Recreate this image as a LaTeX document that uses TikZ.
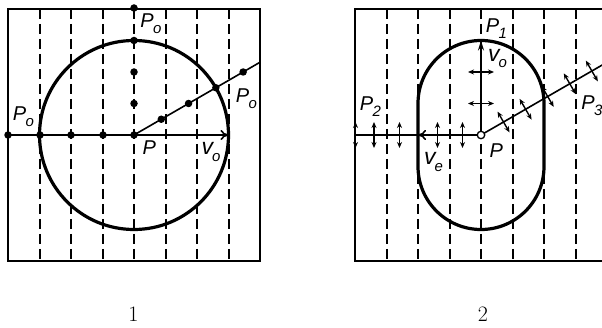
\documentclass[tikz,border=0pt]{standalone}
\usepackage{fontspec}
\setsansfont{Liberation Sans}
\usetikzlibrary{arrows.meta,calc}
\newcommand{\Lb}[2]{{\sffamily\itshape\fontsize{20}{20}\selectfont #1\kern-0.03em\raisebox{-0.3em}{\fontsize{15}{15}\selectfont #2}}}
\newcommand{\Vl}[1]{{\sffamily\itshape\fontsize{23}{23}\selectfont v\kern-0.05em\raisebox{-0.28em}{\fontsize{15}{15}\selectfont #1}}}
\begin{document}
\begin{tikzpicture}[x=1pt,y=-1pt,
  boxline/.style={line width=1.7pt},
  gridline/.style={line width=1.7pt,dash pattern=on 10pt off 5pt},
  curveline/.style={line width=3.2pt},
  axisline/.style={line width=1.6pt},
  dotmark/.style={circle,fill=black,inner sep=0pt,minimum size=7.5pt},
  dblarrow/.style={line width=1.4pt,{Stealth[length=6pt,width=5pt]}-{Stealth[length=6pt,width=5pt]}},
  lbl/.style={inner sep=0pt,anchor=center},
  captext/.style={inner sep=0pt,font=\fontsize{22}{22}\selectfont}]
\useasboundingbox (0,0) rectangle (602,328);
\clip (0,0) rectangle (602,328);
% ---------- figure 1 ----------
\coordinate (Pa) at (134,135);
\draw[boxline] (8,9) rectangle (260,261);
\foreach \x in {40,71,103,134,166,197,229} \draw[gridline] (\x,9) -- (\x,261);
\draw[curveline] (Pa) circle[radius=94.5];
\coordinate (La) at (8,135);
\coordinate (Ra) at (228.5,135);
\draw[axisline,-{To[length=8pt,width=10pt]}] (La) -- (Ra);
\coordinate (Da) at ($(Pa)+(-30:145.5)$);
\draw[axisline] (Pa) -- (Da);
\foreach \y in {8,40.5,72,103.5,135} \node[dotmark] at (134,\y) {};
\foreach \x in {8,40,71,103} \node[dotmark] at (\x,135) {};
\foreach \d in {31.5,63,94.5,126} \node[dotmark] at ($(Pa)+(-30:\d)$) {};
\node[lbl] (pot) at (151,24) {\Lb{P}{o}};
\node[lbl] (pol) at (23.5,117) {\Lb{P}{o}};
\node[lbl] (por) at (246.5,99) {\Lb{P}{o}};
\node[lbl] (pa) at (149,151) {\Lb{P}{}};
\node[lbl] (va) at (211,152) {\Vl{o}};
\node[captext] (c1) at (133.5,314) {1};
% ---------- figure 2 ----------
\coordinate (Pb) at (481,135);
\draw[boxline] (355,9) rectangle (607,261);
\foreach \x in {387,418,450,481,513,544,576} \draw[gridline] (\x,9) -- (\x,261);
\draw[curveline] (418,103.5) -- (418,166.5) arc[start angle=180,end angle=0,radius=63]
  -- (544,103.5) arc[start angle=0,end angle=-180,radius=63] -- cycle;
\coordinate (Tb) at (481,40.5);
\draw[axisline,-{Stealth[length=10pt,width=6pt]}] (Pb) -- (Tb);
\coordinate (Lb) at (355,135);
\coordinate (Sb) at (418,135);
\draw[axisline] (Pb) -- (Lb);
\draw[axisline,-{To[length=8pt,width=10pt]}] (Pb) -- (Sb);
\coordinate (Db) at ($(Pb)+(-30:150)$);
\draw[axisline] (Pb) -- (Db);
\foreach \y in {72,103.5} \draw[dblarrow] (468,\y) -- (494,\y);
\foreach \x in {462.5,437.5,399.5,374,355.5} \draw[dblarrow] (\x,122) -- (\x,148);
\foreach \d in {26,51.5,77,102.5,128} \draw[dblarrow] ($(Pb)+(-30:\d)+(60:12)$) -- ++(240:24);
\node[circle,draw,fill=white,line width=1.3pt,inner sep=0pt,minimum size=7.5pt] (pc) at (Pb) {};
\node[lbl] (p1) at (496.5,29) {\Lb{P}{1}};
\node[lbl] (vo) at (497.5,58.5) {\Vl{o}};
\node[lbl] (p2) at (370.5,107) {\Lb{P}{2}};
\node[lbl] (ve) at (433.5,162) {\Vl{e}};
\node[lbl] (pb) at (496,154) {\Lb{P}{}};
\node[lbl] (p3) at (592,106) {\Lb{P}{3}};
\node[captext] (c2) at (483,314) {2};
\end{tikzpicture}
\end{document}
